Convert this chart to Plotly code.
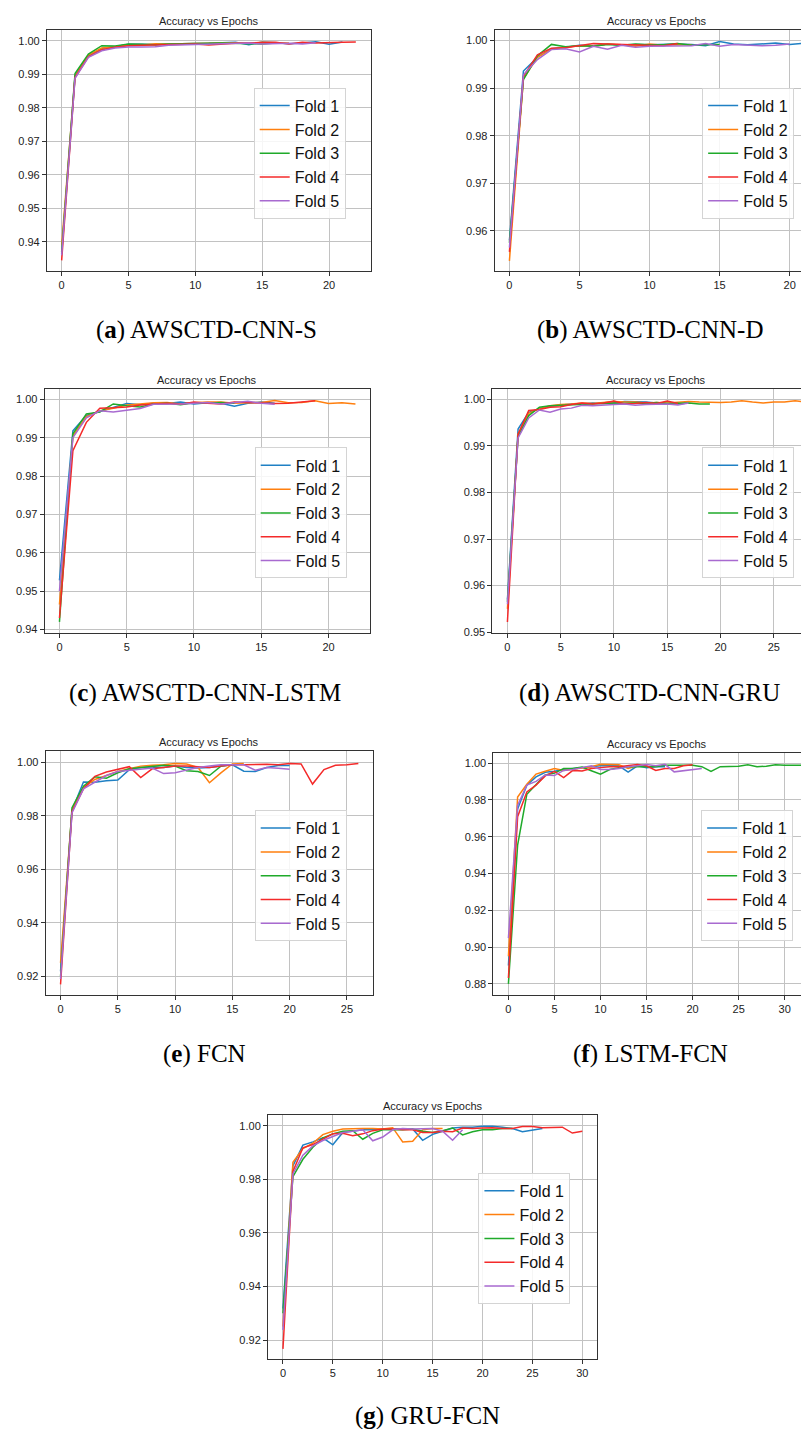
import plotly.graph_objects as go

W, H = 809, 1429

FOLD_NAMES = ["Fold 1", "Fold 2", "Fold 3", "Fold 4", "Fold 5"]
COLORS = ["#1f80c4", "#ff7f0e", "#1faa2a", "#f42a2a", "#a86ad0"]
TITLE = "Accuracy vs Epochs"
CAPTIONS = ["(<b>a</b>) AWSCTD-CNN-S", "(<b>b</b>) AWSCTD-CNN-D", "(<b>c</b>) AWSCTD-CNN-LSTM",
            "(<b>d</b>) AWSCTD-CNN-GRU", "(<b>e</b>) FCN", "(<b>f</b>) LSTM-FCN", "(<b>g</b>) GRU-FCN"]

# (a) AWSCTD-CNN-S
A_F1 = [0.9365, 0.9895, 0.9955, 0.9977, 0.9982, 0.9989, 0.9989, 0.9988, 0.9990, 0.9990, 0.9991, 0.9992,
        0.9994, 0.9995, 0.9988, 0.9996, 0.9994, 0.9991, 0.9993, 0.9997, 0.9989, 0.9996]
A_F2 = [0.9390, 0.9893, 0.9957, 0.9978, 0.9982, 0.9987, 0.9987, 0.9991, 0.9990, 0.9991, 0.9990, 0.9992,
        0.9993, 0.9994, 0.9992, 0.9995, 0.9994, 0.9993]
A_F3 = [0.9370, 0.9902, 0.9960, 0.9985, 0.9984, 0.9990, 0.9989, 0.9988, 0.9990, 0.9990, 0.9991, 0.9992,
        0.9993, 0.9993, 0.9991, 0.9990, 0.9993]
A_F4 = [0.9345, 0.9890, 0.9952, 0.9973, 0.9980, 0.9985, 0.9986, 0.9987, 0.9988, 0.9988, 0.9990, 0.9987,
        0.9990, 0.9992, 0.9993, 0.9994, 0.9995, 0.9990, 0.9995, 0.9993, 0.9993, 0.9995, 0.9996]
A_F5 = [0.9360, 0.9888, 0.9950, 0.9970, 0.9978, 0.9981, 0.9981, 0.9982, 0.9986, 0.9987, 0.9989, 0.9989,
        0.9991, 0.9990, 0.9993, 0.9990, 0.9991, 0.9992, 0.9990, 0.9994]

# (b) AWSCTD-CNN-D
B_F1 = [0.9580, 0.9936, 0.9965, 0.9983, 0.9986, 0.9990, 0.9989, 0.9993, 0.9990, 0.9992, 0.9991, 0.9992,
        0.9993, 0.9992, 0.9989, 0.9998, 0.9993, 0.9991, 0.9993, 0.9995, 0.9992, 0.9994]
B_F2 = [0.9537, 0.9920, 0.9965, 0.9982, 0.9986, 0.9989, 0.9988, 0.9993, 0.9991, 0.9988, 0.9993, 0.9990,
        0.9992, 0.9991]
B_F3 = [0.9575, 0.9918, 0.9968, 0.9992, 0.9987, 0.9989, 0.9988, 0.9992, 0.9990, 0.9993, 0.9991, 0.9991,
        0.9994, 0.9990, 0.9991, 0.9992]
B_F4 = [0.9556, 0.9925, 0.9970, 0.9984, 0.9985, 0.9989, 0.9994, 0.9993, 0.9992, 0.9991, 0.9991, 0.9989,
        0.9994]
B_F5 = [0.9565, 0.9928, 0.9960, 0.9981, 0.9983, 0.9976, 0.9988, 0.9982, 0.9990, 0.9986, 0.9988, 0.9988,
        0.9988, 0.9989, 0.9994, 0.9988, 0.9992, 0.9990, 0.9989, 0.9990, 0.9993]

# (c) AWSCTD-CNN-LSTM
C_F1 = [0.9528, 0.9918, 0.9958, 0.9968, 0.9980, 0.9989, 0.9986, 0.9990, 0.9989, 0.9993, 0.9988, 0.9991,
        0.9990, 0.9982, 0.9990, 0.9993, 0.9990]
C_F2 = [0.9465, 0.9905, 0.9955, 0.9970, 0.9977, 0.9985, 0.9988, 0.9991, 0.9992, 0.9988, 0.9991, 0.9993,
        0.9993, 0.9990, 0.9991, 0.9992, 0.9997, 0.9991, 0.9992, 0.9996, 0.9989, 0.9991, 0.9988]
C_F3 = [0.9420, 0.9910, 0.9962, 0.9967, 0.9988, 0.9983, 0.9980, 0.9988, 0.9990, 0.9986, 0.9991, 0.9990,
        0.9992, 0.9990]
C_F4 = [0.9430, 0.9866, 0.9940, 0.9977, 0.9978, 0.9980, 0.9985, 0.9988, 0.9990, 0.9987, 0.9993, 0.9990,
        0.9988, 0.9993, 0.9992, 0.9990, 0.9989, 0.9990, 0.9993, 0.9996]
C_F5 = [0.9500, 0.9900, 0.9952, 0.9970, 0.9967, 0.9972, 0.9976, 0.9987, 0.9987, 0.9988, 0.9990, 0.9992,
        0.9988, 0.9992, 0.9995, 0.9990, 0.9987]

# (d) AWSCTD-CNN-GRU
D_F1 = [0.9570, 0.9936, 0.9972, 0.9980, 0.9985, 0.9988, 0.9990, 0.9990, 0.9992, 0.9991, 0.9992, 0.9995,
        0.9995, 0.9994, 0.9992, 0.9991, 0.9990, 0.9992]
D_F2 = [0.9550, 0.9925, 0.9970, 0.9980, 0.9986, 0.9989, 0.9990, 0.9992, 0.9991, 0.9993, 0.9995, 0.9994,
        0.9994, 0.9992, 0.9993, 0.9992, 0.9994, 0.9995, 0.9994, 0.9993, 0.9993, 0.9994, 0.9997, 0.9994,
        0.9992, 0.9994, 0.9994, 0.9997, 0.9994]
D_F3 = [0.9565, 0.9920, 0.9965, 0.9983, 0.9986, 0.9987, 0.9988, 0.9990, 0.9991, 0.9992, 0.9992, 0.9991,
        0.9992, 0.9991, 0.9993, 0.9991, 0.9991, 0.9992, 0.9990, 0.9990]
D_F4 = [0.9522, 0.9925, 0.9976, 0.9978, 0.9983, 0.9984, 0.9989, 0.9992, 0.9990, 0.9992, 0.9996, 0.9990,
        0.9991, 0.9993, 0.9991, 0.9996, 0.9991]
D_F5 = [0.9560, 0.9917, 0.9960, 0.9977, 0.9972, 0.9979, 0.9981, 0.9987, 0.9986, 0.9988, 0.9989, 0.9990,
        0.9987, 0.9989, 0.9990, 0.9990, 0.9988, 0.9992]

# (e) FCN
E_F1 = [0.9219, 0.9820, 0.9926, 0.9925, 0.9930, 0.9933, 0.9972, 0.9980, 0.9982, 0.9980, 0.9985, 0.9980,
        0.9978, 0.9980, 0.9985, 0.9990, 0.9966, 0.9965, 0.9980, 0.9987, 0.9987]
E_F2 = [0.9250, 0.9820, 0.9905, 0.9935, 0.9950, 0.9965, 0.9975, 0.9985, 0.9988, 0.9990, 0.9995, 0.9993,
        0.9980, 0.9923, 0.9960, 0.9993, 0.9995]
E_F3 = [0.9200, 0.9830, 0.9910, 0.9945, 0.9940, 0.9960, 0.9975, 0.9980, 0.9985, 0.9988, 0.9985, 0.9968,
        0.9965, 0.9950, 0.9985, 0.9990]
E_F4 = [0.9170, 0.9815, 0.9900, 0.9947, 0.9963, 0.9972, 0.9983, 0.9942, 0.9975, 0.9980, 0.9985, 0.9985,
        0.9982, 0.9980, 0.9985, 0.9990, 0.9990, 0.9991, 0.9992, 0.9990, 0.9995, 0.9993, 0.9918, 0.9972,
        0.9988, 0.9990, 0.9995]
E_F5 = [0.9190, 0.9810, 0.9900, 0.9925, 0.9950, 0.9965, 0.9970, 0.9975, 0.9978, 0.9957, 0.9960, 0.9970,
        0.9980, 0.9985, 0.9990, 0.9990, 0.9990, 0.9970, 0.9980, 0.9977, 0.9973]

# (f) LSTM-FCN
F_F1 = [0.8900, 0.9750, 0.9880, 0.9925, 0.9950, 0.9955, 0.9965, 0.9970, 0.9975, 0.9980, 0.9985, 0.9985,
        0.9985, 0.9951, 0.9985, 0.9975, 0.9980, 0.9980]
F_F2 = [0.8950, 0.9815, 0.9885, 0.9940, 0.9955, 0.9970, 0.9960, 0.9968, 0.9975, 0.9980, 0.9993, 0.9993,
        0.9990, 0.9970, 0.9985]
F_F3 = [0.8800, 0.9554, 0.9830, 0.9885, 0.9935, 0.9945, 0.9970, 0.9970, 0.9978, 0.9958, 0.9939, 0.9965,
        0.9975, 0.9980, 0.9980, 0.9980, 0.9980, 0.9988, 0.9988, 0.9985, 0.9988, 0.9980, 0.9955, 0.9980,
        0.9982, 0.9982, 0.9990, 0.9980, 0.9983, 0.9990, 0.9988, 0.9988, 0.9988]
F_F4 = [0.8832, 0.9708, 0.9843, 0.9880, 0.9930, 0.9955, 0.9921, 0.9960, 0.9957, 0.9970, 0.9975, 0.9980,
        0.9980, 0.9985, 0.9992, 0.9985, 0.9960, 0.9970, 0.9970, 0.9985, 0.9991]
F_F5 = [0.9049, 0.9770, 0.9880, 0.9900, 0.9935, 0.9932, 0.9960, 0.9965, 0.9975, 0.9985, 0.9965, 0.9965,
        0.9970, 0.9980, 0.9985, 0.9992, 0.9985, 0.9993, 0.9952, 0.9958, 0.9963, 0.9970]

# (g) GRU-FCN
G_F1 = [0.9318, 0.9850, 0.9928, 0.9940, 0.9955, 0.9929, 0.9975, 0.9980, 0.9985, 0.9985, 0.9988, 0.9988,
        0.9988, 0.9988, 0.9946, 0.9968, 0.9980, 0.9992, 0.9995, 0.9995, 0.9998, 0.9998, 0.9995, 0.9990,
        0.9978, 0.9985, 0.9990]
G_F2 = [0.9250, 0.9864, 0.9915, 0.9935, 0.9967, 0.9980, 0.9988, 0.9990, 0.9990, 0.9990, 0.9988, 0.9993,
        0.9940, 0.9942, 0.9985, 0.9990, 0.9990]
G_F3 = [0.9300, 0.9810, 0.9875, 0.9920, 0.9955, 0.9970, 0.9980, 0.9982, 0.9950, 0.9972, 0.9985, 0.9985,
        0.9985, 0.9988, 0.9980, 0.9975, 0.9982, 0.9992, 0.9966, 0.9978, 0.9985, 0.9985, 0.9990, 0.9990]
G_F4 = [0.9167, 0.9830, 0.9918, 0.9930, 0.9950, 0.9970, 0.9972, 0.9963, 0.9970, 0.9982, 0.9988, 0.9988,
        0.9985, 0.9985, 0.9975, 0.9975, 0.9980, 0.9978, 0.9992, 0.9990, 0.9992, 0.9993, 0.9990, 0.9990,
        0.9997, 0.9997, 0.9993, 0.9993, 0.9995, 0.9973, 0.9980]
G_F5 = [0.9238, 0.9820, 0.9890, 0.9925, 0.9945, 0.9960, 0.9975, 0.9980, 0.9985, 0.9944, 0.9958, 0.9985,
        0.9990, 0.9988, 0.9988, 0.9990, 0.9980, 0.9946, 0.9985]

PANEL_DATA = [
    [A_F1, A_F2, A_F3, A_F4, A_F5],
    [B_F1, B_F2, B_F3, B_F4, B_F5],
    [C_F1, C_F2, C_F3, C_F4, C_F5],
    [D_F1, D_F2, D_F3, D_F4, D_F5],
    [E_F1, E_F2, E_F3, E_F4, E_F5],
    [F_F1, F_F2, F_F3, F_F4, F_F5],
    [G_F1, G_F2, G_F3, G_F4, G_F5],
]

# layout (pixels): plot box left, right, top, bottom; axis ranges; ticks
PANELS = [
    dict(box=(39, 363, 22, 264), xr=(-1.1, 23.1), yr=(0.9313, 1.0032), ydt=0.01, y0=0.94,
         leg=(246, 80), cap=(199, 323)),
    dict(box=(487.3, 809, 22, 264), xr=(-1.05, 21.88), yr=(0.95156, 1.00224), ydt=0.01, y0=0.96,
         leg=(695, 80), cap=(643, 323)),
    dict(box=(36.7, 362.7, 382.7, 627.3), xr=(-1.1, 23.1), yr=(0.93906, 1.0026), ydt=0.01, y0=0.94,
         leg=(247, 441), cap=(197, 687)),
    dict(box=(485, 809, 382.7, 627.3), xr=(-1.41, 28.96), yr=(0.9498, 1.00213), ydt=0.01, y0=0.95,
         leg=(695, 441), cap=(642, 687)),
    dict(box=(37.7, 365.7, 746, 990), xr=(-1.3, 27.3), yr=(0.91319, 1.0040), ydt=0.02, y0=0.92,
         leg=(247, 805), cap=(197, 1050)),
    dict(box=(486, 809, 747.7, 990), xr=(-1.63, 33.4), yr=(0.87423, 1.0054), ydt=0.02, y0=0.88,
         leg=(694, 805), cap=(643, 1050)),
    dict(box=(260.3, 590, 1111, 1356), xr=(-1.5, 31.5), yr=(0.91282, 1.0040), ydt=0.02, y0=0.92,
         leg=(471, 1169), cap=(420, 1413)),
]

fig = go.Figure()
layout = dict(
    width=W, height=H, margin=dict(l=0, r=0, t=0, b=0),
    paper_bgcolor="white", plot_bgcolor="white", showlegend=True,
    font=dict(family="Liberation Sans, Arial, sans-serif", color="#222222", size=11),
)
annotations = []

for i, (p, series) in enumerate(zip(PANELS, PANEL_DATA)):
    n = i + 1
    xa = "x" if n == 1 else f"x{n}"
    ya = "y" if n == 1 else f"y{n}"
    leg = "legend" if n == 1 else f"legend{n}"
    l, r, t, b = p["box"]
    for k, vals in enumerate(series):
        fig.add_trace(go.Scatter(
            x=list(range(len(vals))), y=vals, mode="lines", name=FOLD_NAMES[k],
            line=dict(color=COLORS[k], width=1.5), xaxis=xa, yaxis=ya, legend=leg,
        ))
    common = dict(showgrid=True, gridcolor="#c2c2c2", gridwidth=1, zeroline=False,
                  showline=True, linecolor="#333333", linewidth=1, mirror=True,
                  ticks="outside", ticklen=4, tickcolor="#333333", tickwidth=1,
                  tickfont=dict(size=11, color="#222222", family="Liberation Sans, Arial, sans-serif"))
    layout["xaxis" if n == 1 else f"xaxis{n}"] = dict(
        domain=[l / W, min(r / W, 1.0)], range=list(p["xr"]), anchor=ya,
        tick0=0, dtick=5, **common)
    layout["yaxis" if n == 1 else f"yaxis{n}"] = dict(
        domain=[1 - b / H, 1 - t / H], range=list(p["yr"]), anchor=xa,
        tick0=p["y0"], dtick=p["ydt"], tickformat=".2f", **common)
    layout[leg] = dict(
        x=p["leg"][0] / W, y=1 - p["leg"][1] / H, xref="paper", yref="paper",
        xanchor="left", yanchor="top", bgcolor="rgba(255,255,255,0.85)",
        bordercolor="#d4d4d4", borderwidth=1, tracegroupgap=0, itemwidth=30,
        font=dict(size=16, color="#111111", family="Liberation Sans, Arial, sans-serif"),
    )
    annotations.append(dict(
        text=TITLE, x=(l + min(r, W)) / 2 / W if n not in (2, 4, 6) else (l + r + 4) / 2 / W,
        y=1 - t / H, xref="paper", yref="paper", xanchor="center", yanchor="bottom",
        yshift=1, showarrow=False, font=dict(size=11, color="#222222")))
    annotations.append(dict(
        text=CAPTIONS[i], x=p["cap"][0] / W, y=1 - p["cap"][1] / H, xref="paper", yref="paper",
        xanchor="center", yanchor="middle", showarrow=False,
        font=dict(size=25, color="#000000", family="Liberation Serif, Times New Roman, serif")))

layout["annotations"] = annotations
fig.update_layout(**layout)
fig.write_html("out.html")
